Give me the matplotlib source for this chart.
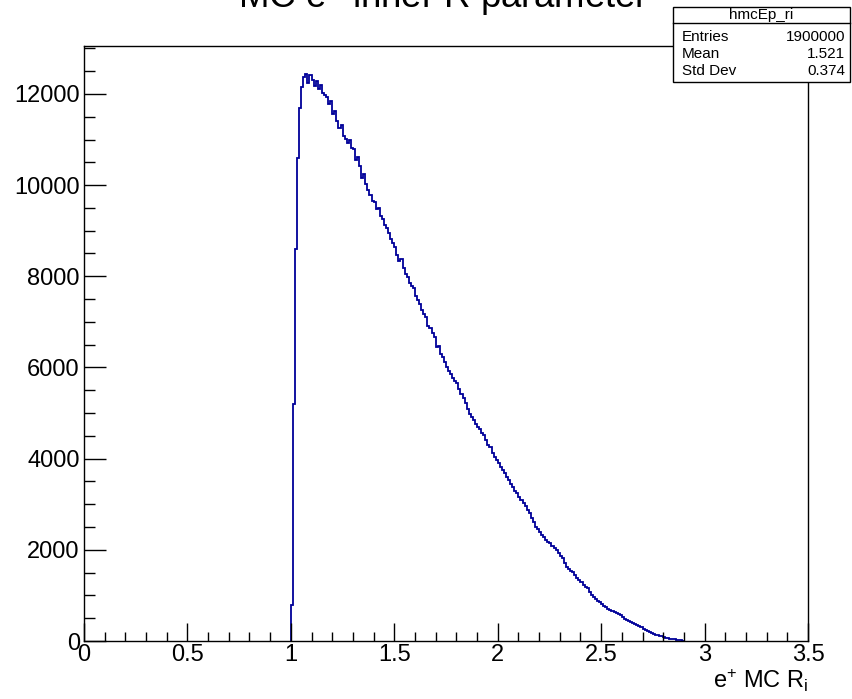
import matplotlib
matplotlib.use('Agg')
import matplotlib.pyplot as plt
from matplotlib.ticker import MultipleLocator
from matplotlib.patches import Rectangle
from matplotlib.lines import Line2D
import numpy as np

plt.rcParams['font.family'] = ['Liberation Sans', 'DejaVu Sans']
plt.rcParams['mathtext.fontset'] = 'custom'
plt.rcParams['mathtext.rm'] = 'Liberation Sans'
plt.rcParams['mathtext.it'] = 'Liberation Sans'

# histogram contents, bins of 0.01 starting at R = 1.00
bin_start = 1.00
bin_width = 0.01
counts = [
    800, 5200, 8600, 10600, 11700, 12150, 12380, 12430, 12250, 12420,   # 1.00
    12310, 12180, 12290, 12110, 12200, 12020, 11980, 11940, 11780, 11850,  # 1.10
    11560, 11620, 11400, 11260, 11310, 11080, 11020, 10930, 10980, 10820,  # 1.20
    10800, 10560, 10620, 10420, 10150, 10250, 10030, 9890, 9780, 9660,     # 1.30
    9620, 9480, 9500, 9330, 9250, 9120, 9070, 8960, 8820, 8720,            # 1.40
    8650, 8470, 8340, 8380, 8180, 8060, 7990, 7850, 7780, 7750,            # 1.50
    7560, 7480, 7400, 7250, 7180, 7100, 6920, 6870, 6750, 6660,            # 1.60
    6440, 6480, 6300, 6220, 6130, 6020, 5930, 5850, 5760, 5700,            # 1.70
    5650, 5520, 5420, 5340, 5230, 5090, 4990, 4920, 4850, 4770,            # 1.80
    4700, 4640, 4560, 4520, 4400, 4290, 4250, 4130, 4030, 3960,            # 1.90
    3900, 3810, 3740, 3680, 3590, 3530, 3450, 3380, 3290, 3240,            # 2.00
    3160, 3090, 3020, 2960, 2870, 2800, 2700, 2610, 2500, 2460,            # 2.10
    2380, 2320, 2280, 2220, 2180, 2150, 2080, 2030, 1990, 1920,            # 2.20
    1870, 1820, 1700, 1620, 1590, 1540, 1510, 1450, 1390, 1340,            # 2.30
    1290, 1230, 1180, 1160, 1080, 1010, 960, 920, 870, 850,                # 2.40
    810, 770, 740, 710, 680, 650, 640, 610, 590, 570,                      # 2.50
    530, 490, 460, 440, 410, 390, 370, 340, 320, 310,                      # 2.60
    270, 240, 220, 195, 175, 160, 140, 130, 115, 100,                      # 2.70
    90, 75, 65, 50, 45, 35, 28, 22, 15, 8,                                 # 2.80
]

title = r'MC e$^{+}$ inner R parameter'
xlabel = r'e$^{+}$ MC R$_{\mathrm{i}}$'
stats_name = 'hmcEp_ri'
stats_rows = [('Entries', '1900000'), ('Mean', '1.521'), ('Std Dev', '0.374')]

W, H = 852, 699
fig = plt.figure(figsize=(W / 100, H / 100), dpi=100)
ax = fig.add_axes([84 / W, 58 / H, (808 - 84) / W, (641 - 46) / H])

edges = bin_start + bin_width * np.arange(len(counts) + 1)
ax.stairs(counts, edges, baseline=0, color='#000099', linewidth=1.3)

ax.set_xlim(0, 3.5)
ax.set_ylim(0, 1.05 * max(counts))
ax.xaxis.set_major_locator(MultipleLocator(0.5))
ax.xaxis.set_minor_locator(MultipleLocator(0.1))
ax.yaxis.set_major_locator(MultipleLocator(2000))
ax.yaxis.set_minor_locator(MultipleLocator(500))
ax.xaxis.set_major_formatter(matplotlib.ticker.FuncFormatter(lambda v, p: '%g' % v))
ax.tick_params(axis='x', which='both', direction='in', top=False, labelsize=17, pad=2)
ax.tick_params(axis='x', which='major', length=13, width=1)
ax.tick_params(axis='x', which='minor', length=6.5, width=1)
ax.tick_params(axis='y', which='both', direction='in', right=False, labelsize=17, pad=3)
ax.tick_params(axis='y', which='major', length=15.6, width=1)
ax.tick_params(axis='y', which='minor', length=7.8, width=1)
for s in ax.spines.values():
    s.set_linewidth(1)

fig.text(808 / W, 1 - 688 / H, xlabel, ha='right', va='baseline', fontsize=17)
# title is clipped at the top edge, as in the original canvas
fig.text(443 / W, 1 - 8 / H, title, ha='center', va='baseline', fontsize=26.4)

# stats box
bx0, bx1, by0, by1, ysep = 673, 850, 7, 82, 23
fig.patches.append(Rectangle((bx0 / W, 1 - by1 / H), (bx1 - bx0) / W, (by1 - by0) / H,
                             transform=fig.transFigure, facecolor='white',
                             edgecolor='black', linewidth=1, zorder=5))
fig.lines.append(Line2D([bx0 / W, bx1 / W], [1 - ysep / H, 1 - ysep / H],
                        transform=fig.transFigure, color='black', linewidth=1, zorder=6))
fig.text((bx0 + bx1) / 2 / W, 1 - 15.5 / H, stats_name, ha='center', va='center',
         fontsize=11, zorder=7)
for i, (k, v) in enumerate(stats_rows):
    yy = 1 - (37 + 17 * i) / H
    fig.text(682 / W, yy, k, ha='left', va='center', fontsize=11, zorder=7)
    fig.text(845 / W, yy, v, ha='right', va='center', fontsize=11, zorder=7)

fig.savefig('out.png', dpi=100)
